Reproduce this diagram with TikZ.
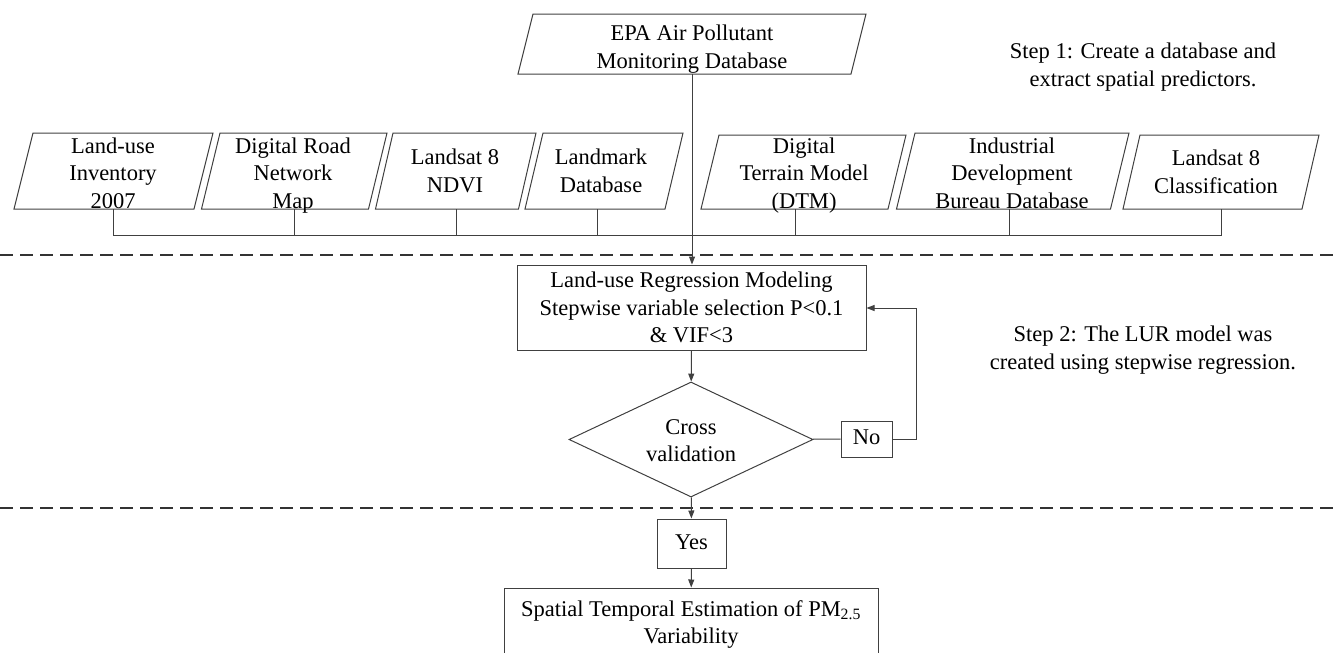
\documentclass[tikz,border=0pt]{standalone}
\usepackage{fontspec}
\setmainfont{Liberation Serif}
\usetikzlibrary{shapes.geometric,arrows.meta}
\newcommand\pgram[8]{% name, top-left x, top-right x, slant, top y, bottom y, text pos, text
  \draw[ln] (#2,#5) -- (#3,#5) -- (#3-#4,#6) -- (#2-#4,#6) -- cycle;
  \node[txt] (#1) at #7 {#8};
}
\begin{document}
\begin{tikzpicture}[x=1pt,y=-1pt,
  every node/.style={font=\fontsize{22.5}{27.5}\selectfont, align=center, inner sep=0pt, text=black},
  ln/.style={draw=black!75, line width=1pt},
  txt/.style={execute at begin node=\strut, execute at end node=\strut},
  box/.style={ln, rectangle, txt},
  plainbox/.style={ln, rectangle},
  arr/.style={ln, -{Triangle[length=8pt,width=6pt]}},
  dashsep/.style={draw=black!80, line width=1.3pt, dash pattern=on 13pt off 7pt},
]
\useasboundingbox (0,0) rectangle (1334,653);
\clip (0,0) rectangle (1334,653);

% top source
\pgram{epa}{533}{866}{15}{14}{74}{(692,51)}{EPA Air Pollutant\\Monitoring Database}
\coordinate (epab) at (692,74);

% predictor sources
\pgram{p1}{33}{213}{19}{133}{209}{(113,177)}{Land-use\\Inventory\\2007}
\pgram{p2}{220}{387}{18.5}{133}{209}{(293,177)}{Digital Road\\Network\\Map}
\pgram{p3}{393}{536}{17.5}{133}{209}{(455,175)}{Landsat 8\\NDVI}
\pgram{p4}{543}{683}{18}{133}{209}{(601,175)}{Landmark\\Database}
\pgram{p5}{719}{906}{18}{135}{209}{(804,177)}{Digital\\Terrain Model\\(DTM)}
\pgram{p6}{915}{1129}{18.5}{133}{209}{(1012,177)}{Industrial\\Development\\Bureau Database}
\pgram{p7}{1140}{1319}{17}{135}{209}{(1216,176)}{Landsat 8\\Classification}

\coordinate (s1) at (113,209);
\coordinate (s2) at (294,209);
\coordinate (s3) at (456,209);
\coordinate (s4) at (597,209);
\coordinate (s5) at (795,209);
\coordinate (s6) at (1009,209);
\coordinate (s7) at (1221,209);
\coordinate (bus) at (0,235);

% step labels
\node[txt] (step1) at (1143,69) {Step 1: Create a database and\\extract spatial predictors.};
\node[txt] (step2) at (1143,352) {Step 2: The LUR model was\\created using stepwise regression.};

% separators
\draw[dashsep] (0,255) -- (1334,255);
\draw[dashsep] (0,508) -- (1334,508);

% main flow
\node[plainbox, minimum width=349pt, minimum height=85pt] (lur) at (691.5,307.5)
  {Land-use Regression Modeling\\Stepwise variable selection P<0.1\\\& VIF<3};
\node[ln, diamond, aspect=2.12, minimum width=244pt, minimum height=115pt] (cv) at (691,439.5)
  {\rule{0pt}{17pt}Cross\\validation};
\node[box, minimum width=51pt, minimum height=36pt] (no) at (866.5,439) {No};
\coordinate (loop) at (916,308);
\node[box, minimum width=69pt, minimum height=49pt] (yes) at (691.5,543.5) {Yes};
\node[box, minimum width=374pt, minimum height=76pt] (final) at (691,626)
  {Spatial Temporal Estimation of PM\textsubscript{2.5}\\Variability};

% connectors
\draw[ln] (s1) -- (s1 |- bus) -- (s7 |- bus) -- (s7);
\foreach \s in {s2,s3,s4,s5,s6} \draw[ln] (\s) -- (\s |- bus);
\draw[arr] (epab) -- (epab |- lur.north);
\draw[arr] (lur) -- (cv);
\draw[ln] (cv) -- (no);
\draw[arr] (no.east) -| (loop) -- (loop -| lur.east);
\draw[arr] (cv) -- (yes);
\draw[arr] (yes) -- (final);
\end{tikzpicture}
\end{document}
